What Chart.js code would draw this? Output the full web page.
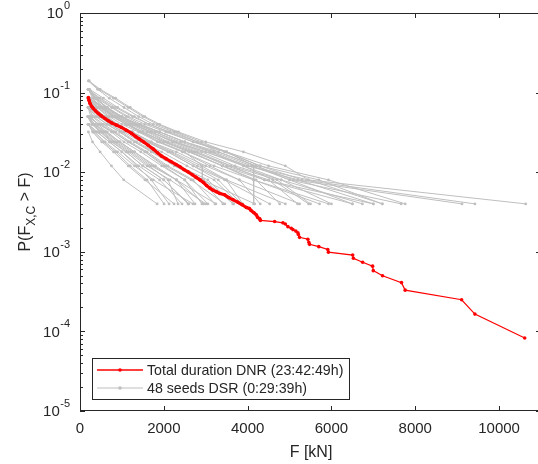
<!DOCTYPE html>
<html>
<head>
<meta charset="utf-8">
<script src="https://cdn.jsdelivr.net/npm/chart.js@4"></script>
<style>
  html, body { margin: 0; padding: 0; background: #fff; overflow: hidden; }
  canvas { display: block; }
</style>
</head>
<body>
<canvas id="probChart" width="545" height="464"></canvas>
<script>
// Exceedance probability levels shared by the 48 DSR seeds (1/250 steps)
const levelP = [0.14, 0.11, 0.085, 0.065, 0.05, 0.04, 0.032, 0.024, 0.018, 0.012, 0.008, 0.004];

// Force [kN] of each seed at the last levels of levelP (last value = P 0.004)
const seedForces = [
    [210, 480, 850, 1200, 1550, 1900, 2350, 3000, 3900, 4900, 5450, 10636],
    [220, 450, 800, 1150, 1500, 1850, 2300, 2900, 3500, 4300, 5300, 9424],
    [200, 420, 700, 1050, 1400, 1750, 2250, 2800, 3300, 4200, 5100, 9115],
    [230, 560, 900, 1300, 1650, 2100, 2700, 3500, 4500, 5930, 7760],
    [200, 400, 750, 1100, 1450, 1900, 2500, 3200, 4100, 5000, 7665],
    [210, 380, 650, 1000, 1350, 1800, 2400, 3100, 4000, 5450, 7213],
    [190, 450, 820, 1200, 1600, 2050, 2600, 3400, 4400, 6999],
    [200, 520, 900, 1250, 1700, 2250, 2900, 3700, 4800, 6738],
    [220, 360, 620, 950, 1300, 1700, 2200, 2800, 3600, 4400, 6500],
    [200, 330, 560, 850, 1150, 1500, 2000, 2600, 3400, 4144, 5929],
    [180, 400, 700, 1000, 1400, 1850, 2450, 3200, 4144, 5715],
    [210, 600, 1000, 1350, 1800, 2300, 3000, 3900, 4600, 5454],
    [200, 300, 500, 800, 1100, 1450, 1900, 2450, 3100, 3800, 5240],
    [190, 350, 650, 950, 1300, 1650, 2100, 2750, 3500, 4500, 5192],
    [240, 500, 780, 1100, 1500, 2000, 2650, 3400, 4200, 4764],
    [200, 420, 650, 900, 1200, 1600, 2100, 2700, 3450, 4526],
    [210, 520, 800, 1100, 1450, 1900, 2500, 2920, 2920, 4169],
    [200, 340, 600, 900, 1250, 1650, 2150, 2800, 3490, 3884],
    [220, 460, 720, 1000, 1350, 1800, 2350, 3050, 3646],
    [200, 380, 640, 950, 1300, 1700, 2250, 2900, 3409],
    [190, 320, 560, 850, 1200, 1600, 2100, 2700, 3219],
    [200, 450, 750, 1050, 1450, 1950, 2500, 3052],
    [210, 300, 500, 800, 1150, 1550, 2000, 2500, 2910],
    [200, 360, 620, 950, 1300, 1800, 2300, 2743],
    [180, 280, 480, 750, 1100, 1500, 2000, 2577],
    [200, 400, 700, 1000, 1400, 1900, 2434],
    [220, 330, 560, 850, 1200, 1650, 2100, 2339],
    [200, 300, 520, 800, 1150, 1550, 2244],
    [190, 420, 700, 1000, 1350, 1700, 2125],
    [200, 320, 560, 850, 1200, 1600, 2006],
    [200, 300, 480, 750, 1044, 1840],
    [210, 350, 600, 900, 1300, 1750, 2695],
    [200, 500, 850, 1200, 1600, 2100, 2700, 3300, 3860],
    [200, 480, 850, 1250, 1650, 2150, 2800, 3500, 4144, 4144, 4144],
    [200, 400, 650, 950, 1300, 1750, 2300, 2950, 3670],
    [210, 450, 800, 1150, 1550, 2050, 2650, 3456],
    [200, 350, 600, 900, 1250, 1700, 2300, 3242],
    [190, 300, 520, 820, 1150, 1600, 2150, 3004],
    [200, 380, 650, 1000, 1400, 1900, 2500, 3150, 3900, 4800, 6000],
    [210, 560, 950, 1400, 1900, 2500, 3300, 4200, 5000, 6500],
    [200, 420, 760, 1100, 1500, 2000, 2700, 3600, 4700, 5500],
    [220, 500, 850, 1250, 1700, 2250, 3000, 4000, 5200, 7000],
    [200, 330, 580, 880, 1250, 1700, 2300, 3000, 3800, 4300],
    [200, 280, 460, 720, 1050, 1450, 1950, 2550, 3200, 3800],
    [190, 260, 420, 650, 950, 1300, 1750, 2300, 2950],
    [200, 300, 500, 780, 1100, 1500, 2000, 2600],
    [210, 350, 580, 880, 1250, 1700, 2200, 2900, 3500, 4900],
    [200, 450, 780, 1150, 1550, 2050, 2700, 3450, 4300, 5700, 7213]
];

// Total duration DNR curve
const dnrForce = [
    200, 215, 240, 280, 318, 370, 437, 510, 596, 670, 754, 870, 991, 1110, 1230, 1330,
    1410, 1520, 1626, 1750, 1850, 1942, 2050, 2170, 2290, 2386, 2480, 2577, 2680, 2770,
    2862, 2950, 3020, 3100, 3160, 3250, 3337, 3449, 3550, 3654, 3765, 3870, 3972, 4040,
    4082, 4150, 4210, 4241, 4288, 4305, 4644, 4842, 4900, 4961, 5041, 5080, 5150, 5199,
    5210, 5239, 5437, 5460, 5477, 5698, 5912, 5928, 6506, 6523, 6744, 6981, 6998, 7219,
    7671, 7759, 9106, 9423, 10611
];
const dnrProb = [
    0.0868, 0.080, 0.073, 0.067, 0.063, 0.059, 0.0547, 0.051, 0.0473, 0.0445, 0.0417, 0.039,
    0.0365, 0.0335, 0.0307, 0.028, 0.0262, 0.024, 0.0218, 0.0195, 0.0175, 0.016, 0.0148,
    0.0136, 0.0125, 0.0117, 0.0108, 0.0101, 0.0093, 0.0086, 0.008, 0.0074, 0.0068, 0.0063,
    0.006, 0.0057, 0.0054, 0.0052, 0.0048, 0.0045, 0.0042, 0.0039, 0.0036, 0.0035, 0.0033,
    0.0031, 0.0029, 0.0027, 0.0026, 0.00248, 0.0024, 0.00231, 0.00223, 0.00207, 0.00198,
    0.0019, 0.00182, 0.00173, 0.00165, 0.00152, 0.00144, 0.00132, 0.00124, 0.00116, 0.00107,
    0.00099, 0.00091, 0.00083, 0.00074, 0.00066, 0.00058, 0.0005, 0.00041, 0.00033, 0.00025,
    0.000165, 0.0000826
];

// Axis ticks
const xTicks = [0, 2000, 4000, 6000, 8000, 10000];
const yExponents = [0, -1, -2, -3, -4, -5];

const legendLabels = ["Total duration DNR (23:42:49h)", "48 seeds DSR (0:29:39h)"];

const RED = "#ff0000";
const GRAY = "#bfbfbf";
const AXIS = "#262626";
const FONT = "Liberation Sans, Arial, sans-serif";

// --- datasets ---
const dnrData = dnrForce.map((f, i) => ({ x: f, y: dnrProb[i] }));
const datasets = [{
    label: legendLabels[0],
    data: dnrData,
    borderColor: RED,
    backgroundColor: RED,
    borderWidth: 1.2,
    pointRadius: 1.8,
    pointBorderWidth: 0,
    showLine: true,
    order: 0,
    segment: { borderWidth: ctx => ctx.p0.parsed.x < 4300 ? 3.2 : 1.2 }
}];
seedForces.forEach((forces, s) => {
    const p = levelP.slice(levelP.length - forces.length);
    datasets.push({
        label: s === 0 ? legendLabels[1] : "",
        data: forces.map((f, i) => ({ x: f, y: p[i] })),
        borderColor: GRAY,
        backgroundColor: GRAY,
        borderWidth: 1,
        pointRadius: 1.4,
        pointBorderWidth: 0,
        showLine: true,
        order: 1
    });
});

// --- axes, ticks, legend drawn MATLAB style ---
const axesPlugin = {
    id: "matlabAxes",
    afterDraw(chart) {
        const ctx = chart.ctx;
        const a = chart.chartArea;
        const xs = chart.scales.x, ys = chart.scales.y;
        ctx.save();
        ctx.strokeStyle = AXIS;
        ctx.fillStyle = AXIS;
        ctx.lineWidth = 1;

        // frame
        ctx.strokeRect(a.left + 0.5, a.top + 0.5, a.right - a.left - 1, a.bottom - a.top - 1);

        // x ticks (bottom and top, inward)
        ctx.beginPath();
        xTicks.forEach(v => {
            const px = Math.round(xs.getPixelForValue(v)) + 0.5;
            ctx.moveTo(px, a.bottom); ctx.lineTo(px, a.bottom - 5);
            ctx.moveTo(px, a.top); ctx.lineTo(px, a.top + 5);
        });
        // y ticks (major + minor, left and right)
        yExponents.forEach(e => {
            for (let m = 1; m <= 9; m++) {
                const v = m * Math.pow(10, e);
                if (v > 1.0001) continue;
                const py = Math.round(ys.getPixelForValue(v)) + 0.5;
                const len = m === 1 ? 5 : 3;
                ctx.moveTo(a.left, py); ctx.lineTo(a.left + len, py);
                ctx.moveTo(a.right, py); ctx.lineTo(a.right - len, py);
            }
        });
        ctx.stroke();

        // x tick labels
        ctx.font = "15px " + FONT;
        ctx.textAlign = "center";
        ctx.textBaseline = "top";
        xTicks.forEach(v => ctx.fillText(String(v), xs.getPixelForValue(v), a.bottom + 10));

        // y tick labels 10^e
        yExponents.forEach(e => {
            const py = ys.getPixelForValue(Math.pow(10, e));
            const exp = String(e);
            ctx.font = "11px " + FONT;
            const ew = ctx.measureText(exp).width;
            ctx.textAlign = "left";
            ctx.textBaseline = "middle";
            const expX = a.left - 10 - ew;
            ctx.fillText(exp, expX, py - 7);
            ctx.font = "15px " + FONT;
            ctx.textAlign = "right";
            ctx.fillText("10", expX - 0.5, py + 1);
        });

        // x axis title
        ctx.font = "16px " + FONT;
        ctx.textAlign = "center";
        ctx.textBaseline = "alphabetic";
        ctx.fillText("F [kN]", 311, 457);

        // y axis title with subscript
        ctx.save();
        ctx.translate(30, (a.top + a.bottom) / 2);
        ctx.rotate(-Math.PI / 2);
        const p1 = "P(F", sub = "X,C", p2 = " > F)";
        ctx.font = "16px " + FONT;
        const w1 = ctx.measureText(p1).width, w3 = ctx.measureText(p2).width;
        ctx.font = "12px " + FONT;
        const w2 = ctx.measureText(sub).width;
        let sx = -(w1 + w2 + w3) / 2;
        ctx.textAlign = "left";
        ctx.font = "16px " + FONT;
        ctx.fillText(p1, sx, 0);
        ctx.font = "12px " + FONT;
        ctx.fillText(sub, sx + w1, 5);
        ctx.font = "16px " + FONT;
        ctx.fillText(p2, sx + w1 + w2, 0);
        ctx.restore();

        // legend box
        const lx = 92, ly = 358, lw = 257, lh = 41;
        ctx.fillStyle = "#ffffff";
        ctx.fillRect(lx, ly, lw, lh);
        ctx.strokeStyle = AXIS;
        ctx.strokeRect(lx + 0.5, ly + 0.5, lw, lh);
        const rows = [{ c: RED, y: 370, w: 1.5 }, { c: GRAY, y: 388, w: 1 }];
        rows.forEach((r, i) => {
            ctx.strokeStyle = r.c;
            ctx.fillStyle = r.c;
            ctx.lineWidth = r.w;
            ctx.beginPath();
            ctx.moveTo(97, r.y); ctx.lineTo(143, r.y);
            ctx.stroke();
            ctx.beginPath();
            ctx.arc(120, r.y, 1.8, 0, Math.PI * 2);
            ctx.fill();
            ctx.fillStyle = AXIS;
            ctx.font = "14.2px " + FONT;
            ctx.textAlign = "left";
            ctx.textBaseline = "middle";
            ctx.fillText(legendLabels[i], 147, r.y + 1);
        });
        ctx.restore();
    }
};

new Chart(document.getElementById("probChart").getContext("2d"), {
    type: "scatter",
    data: { datasets: datasets },
    options: {
        responsive: false,
        animation: false,
        layout: { padding: { left: 80, top: 13, right: 3, bottom: 53 } },
        plugins: { legend: { display: false }, tooltip: { enabled: false } },
        scales: {
            x: { type: "linear", min: 0, max: 11000, display: false },
            y: { type: "logarithmic", min: 1e-5, max: 1, display: false }
        }
    },
    plugins: [axesPlugin]
});
</script>
</body>
</html>
